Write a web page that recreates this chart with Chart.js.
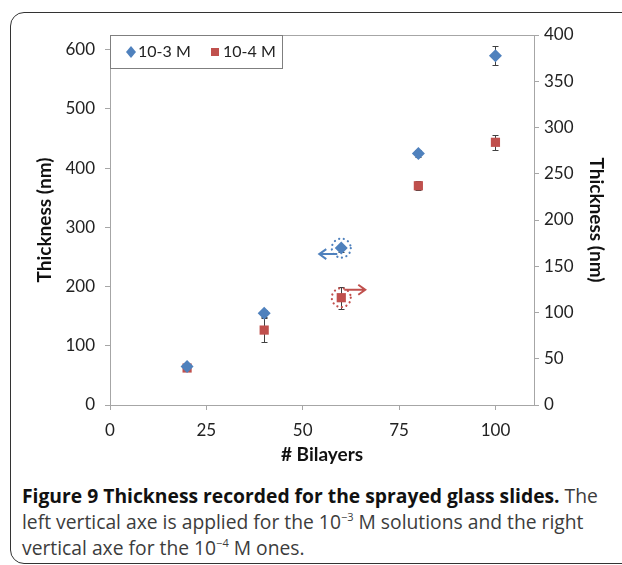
<!DOCTYPE html>
<html>
<head>
<meta charset="utf-8">
<script src="https://cdn.jsdelivr.net/npm/chart.js@4.4.1/dist/chart.umd.min.js"></script>
<style>
  html, body { margin: 0; padding: 0; background: #fff; }
  #page { position: relative; width: 622px; height: 565px; overflow: hidden; }
  #frame { position: absolute; left: 10px; top: 12px; width: 660px; height: 550px;
           border: 1.5px solid #333; border-radius: 14px; }
  #wrap { position: absolute; left: 0; top: 0; width: 622px; height: 470px; }
  .cap { position: absolute; left: 22px; font-family: "Open Sans"; font-size: 19.3px;
         color: #3c3c3c; white-space: nowrap; line-height: 1; }
  .cap b { color: #111; }
  .cap sup { font-size: 11px; vertical-align: 8px; line-height: 0; }
</style>
</head>
<body>
<div id="page">
  <div id="frame"></div>
  <div id="wrap"><canvas id="chartCanvas"></canvas></div>
  <div class="cap" style="top:486px"><b>Figure 9 Thickness recorded for the sprayed glass slides.</b> The</div>
  <div class="cap" style="top:512px">left vertical axe is applied for the 10<sup>&minus;3</sup> M solutions and the right</div>
  <div class="cap" style="top:538px">vertical axe for the 10<sup>&minus;4</sup> M ones.</div>
</div>
<script>
"use strict";

// values
var bilayers = [20, 40, 60, 80, 100];
var thick_e3 = [65, 155, 265, 425, 590];   // left axis
var err_e3 = [4, 6, 6, 6, 16];
var thick_e4 = [40, 81, 116, 237, 284];    // right axis
var err_e4 = [3, 13, 12, 5, 8];
var series_names = ["10-3 M", "10-4 M"];

var x_ticks = [0, 25, 50, 75, 100];
var left_ticks = [0, 100, 200, 300, 400, 500, 600];
var right_ticks = [0, 50, 100, 150, 200, 250, 300, 350, 400];

var blue = "#4F81BD";
var red = "#C0504D";
var axis_grey = "#A6A6A6";
var tick_font = {family: "Lato", size: 17};
var title_font = {family: "Lato", size: 19, weight: "bold"};

// index of the highlighted point (circled, with arrow to its axis)
var marked_index = 2;

function to_points(xs, ys) {
    var pts = [];
    xs.forEach(function(x, i) {
        pts.push({x: x, y: ys[i]});
    });
    return pts;
}

function set_ticks(list) {
    return function(scale) {
        scale.ticks = list.map(function(v) { return {value: v}; });
    };
}

function arrow(ctx, x1, y, x2, color) {
    var dir = x2 < x1 ? -1 : 1;
    ctx.save();
    ctx.strokeStyle = color;
    ctx.lineWidth = 2;
    ctx.setLineDash([]);
    ctx.beginPath();
    ctx.moveTo(x1, y);
    ctx.lineTo(x2, y);
    ctx.moveTo(x2 - dir * 7, y - 5);
    ctx.lineTo(x2, y);
    ctx.lineTo(x2 - dir * 7, y + 5);
    ctx.stroke();
    ctx.restore();
}

var extras = {
    id: "extras",
    beforeDatasetsDraw: function(chart) {
        var ctx = chart.ctx;
        var xs = chart.scales.x;
        var sets = [[thick_e3, err_e3, chart.scales.yL], [thick_e4, err_e4, chart.scales.yR]];
        ctx.save();
        ctx.strokeStyle = "#404040";
        ctx.lineWidth = 1;
        sets.forEach(function(s) {
            bilayers.forEach(function(b, i) {
                var px = Math.round(xs.getPixelForValue(b)) + 0.5;
                var top = Math.round(s[2].getPixelForValue(s[0][i] + s[1][i])) + 0.5;
                var bot = Math.round(s[2].getPixelForValue(s[0][i] - s[1][i])) + 0.5;
                ctx.beginPath();
                ctx.moveTo(px, top); ctx.lineTo(px, bot);
                ctx.moveTo(px - 3, top); ctx.lineTo(px + 3, top);
                ctx.moveTo(px - 3, bot); ctx.lineTo(px + 3, bot);
                ctx.stroke();
            });
        });
        // frame line along the top of the plot
        var a = chart.chartArea;
        ctx.strokeStyle = axis_grey;
        ctx.beginPath();
        ctx.moveTo(a.left, a.top + 0.5);
        ctx.lineTo(a.right, a.top + 0.5);
        ctx.stroke();
        ctx.restore();
    },
    afterDatasetsDraw: function(chart) {
        var ctx = chart.ctx;
        var xs = chart.scales.x;
        var a = chart.chartArea;
        var bx = xs.getPixelForValue(bilayers[marked_index]);
        var by = chart.scales.yL.getPixelForValue(thick_e3[marked_index]);
        var ry = chart.scales.yR.getPixelForValue(thick_e4[marked_index]);

        ctx.save();
        ctx.lineWidth = 2.2;
        ctx.lineCap = "round";
        ctx.setLineDash([0.1, 4.6]);
        ctx.strokeStyle = blue;
        ctx.beginPath(); ctx.arc(bx, by, 9.5, 0, Math.PI * 2); ctx.stroke();
        ctx.strokeStyle = red;
        ctx.beginPath(); ctx.arc(bx, ry, 9.5, 0, Math.PI * 2); ctx.stroke();
        ctx.restore();
        arrow(ctx, bx - 4, by + 6, bx - 22, blue);
        arrow(ctx, bx + 3, ry - 8, bx + 24, red);

        // legend box in the top left corner of the plot
        ctx.save();
        ctx.fillStyle = "#fff";
        ctx.strokeStyle = "#7f7f7f";
        ctx.lineWidth = 1;
        ctx.fillRect(a.left, a.top, 172, 33);
        ctx.strokeRect(a.left + 0.5, a.top + 0.5, 172, 33);
        var ly = a.top + 17;
        ctx.fillStyle = blue;
        ctx.beginPath();
        ctx.moveTo(a.left + 21, ly - 6); ctx.lineTo(a.left + 26, ly);
        ctx.lineTo(a.left + 21, ly + 6); ctx.lineTo(a.left + 16, ly);
        ctx.closePath(); ctx.fill();
        ctx.fillStyle = red;
        ctx.fillRect(a.left + 101, ly - 4, 8, 8);
        ctx.fillStyle = "#222";
        ctx.font = "16px Lato";
        ctx.textBaseline = "middle";
        ctx.fillText(series_names[0], a.left + 28, ly);
        ctx.fillText(series_names[1], a.left + 113, ly);
        ctx.restore();
    }
};

function axis(opts) {
    var base = {
        type: "linear",
        border: {display: true, color: axis_grey, width: 1},
        grid: {drawOnChartArea: false, color: axis_grey, tickLength: 5},
        ticks: {font: tick_font, color: "#222"}
    };
    return Object.assign(base, opts);
}

function init_chart() {
    var ctx = document.getElementById("chartCanvas").getContext("2d");
    new Chart(ctx, {
        type: "scatter",
        data: {
            datasets: [{
                label: series_names[0],
                data: to_points(bilayers, thick_e3),
                yAxisID: "yL",
                pointStyle: "rectRot",
                pointRadius: 6.5,
                pointHoverRadius: 6.5,
                backgroundColor: blue,
                borderColor: blue,
                borderWidth: 0
            }, {
                label: series_names[1],
                data: to_points(bilayers, thick_e4),
                yAxisID: "yR",
                pointStyle: "rect",
                pointRadius: 6.5,
                pointHoverRadius: 6.5,
                backgroundColor: red,
                borderColor: red,
                borderWidth: 0
            }]
        },
        options: {
            responsive: true,
            maintainAspectRatio: false,
            animation: false,
            events: [],
            layout: {padding: {top: 35, left: 0, right: 0, bottom: 0}},
            plugins: {legend: {display: false}, tooltip: {enabled: false}},
            scales: {
                x: axis({
                    position: "bottom",
                    min: 0, max: 110,
                    afterBuildTicks: set_ticks(x_ticks),
                    afterFit: function(s) { s.height = 65; },
                    ticks: {font: tick_font, color: "#222", padding: 10},
                    title: {display: true, text: "# Bilayers", font: title_font, color: "#111",
                            padding: {top: 0, bottom: 4}}
                }),
                yL: axis({
                    position: "left",
                    min: 0, max: 625,
                    afterBuildTicks: set_ticks(left_ticks),
                    afterFit: function(s) { s.width = 110; },
                    ticks: {font: tick_font, color: "#222", padding: 10},
                    title: {display: true, text: "Thickness (nm)", font: title_font, color: "#111",
                            padding: {top: 33, bottom: 0}}
                }),
                yR: axis({
                    position: "right",
                    min: 0, max: 400,
                    afterBuildTicks: set_ticks(right_ticks),
                    afterFit: function(s) { s.width = 88; },
                    ticks: {font: tick_font, color: "#222", padding: 5},
                    title: {display: true, text: "Thickness (nm)", font: title_font, color: "#111",
                            padding: {top: 14, bottom: 0}}
                })
            }
        },
        plugins: [extras]
    });
}

window.addEventListener("load", function() {
    init_chart();
});
</script>
</body>
</html>
